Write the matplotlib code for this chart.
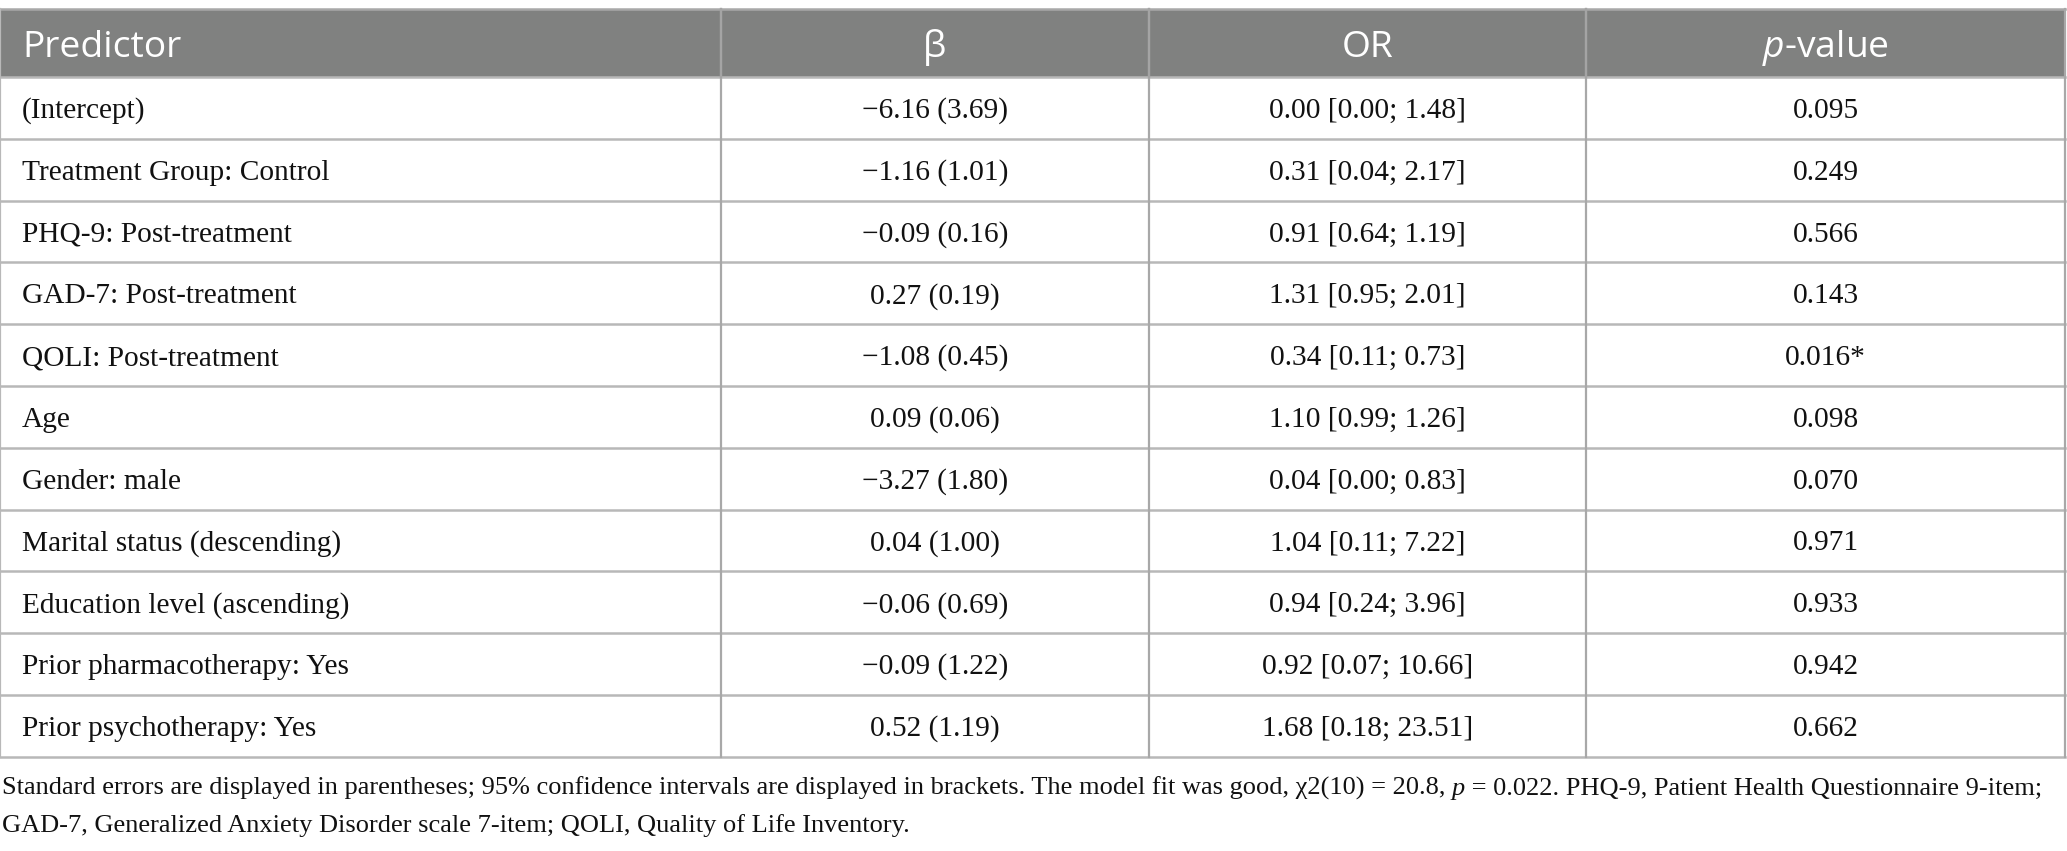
import matplotlib
matplotlib.use("Agg")
import matplotlib.pyplot as plt
from matplotlib.patches import Rectangle

# Table content
header = ["Predictor", "β", "OR", "p-value"]
predictors = [
    "(Intercept)",
    "Treatment Group: Control",
    "PHQ-9: Post-treatment",
    "GAD-7: Post-treatment",
    "QOLI: Post-treatment",
    "Age",
    "Gender: male",
    "Marital status (descending)",
    "Education level (ascending)",
    "Prior pharmacotherapy: Yes",
    "Prior psychotherapy: Yes",
]
beta_se = [
    "\u22126.16 (3.69)", "\u22121.16 (1.01)", "\u22120.09 (0.16)", "0.27 (0.19)",
    "\u22121.08 (0.45)", "0.09 (0.06)", "\u22123.27 (1.80)", "0.04 (1.00)",
    "\u22120.06 (0.69)", "\u22120.09 (1.22)", "0.52 (1.19)",
]
odds_ratio = [
    "0.00 [0.00; 1.48]", "0.31 [0.04; 2.17]", "0.91 [0.64; 1.19]", "1.31 [0.95; 2.01]",
    "0.34 [0.11; 0.73]", "1.10 [0.99; 1.26]", "0.04 [0.00; 0.83]", "1.04 [0.11; 7.22]",
    "0.94 [0.24; 3.96]", "0.92 [0.07; 10.66]", "1.68 [0.18; 23.51]",
]
p_values = ["0.095", "0.249", "0.566", "0.143", "0.016*", "0.098",
            "0.070", "0.971", "0.933", "0.942", "0.662"]
footnote_1 = [
    ("Standard errors are displayed in parentheses; 95% confidence intervals are displayed in brackets. "
     "The model fit was good, \u03c72(10) = 20.8, ", "normal"),
    ("p", "italic"),
    (" = 0.022. PHQ-9, Patient Health Questionnaire 9-item;", "normal"),
]
footnote_2 = "GAD-7, Generalized Anxiety Disorder scale 7-item; QOLI, Quality of Life Inventory."

W, H = 2067, 851
col_edges = [0, 721, 1149, 1586, 2065]
top, header_bottom, row_h = 9, 77, 61.8
header_bg = "#808180"
line_col = "#b8b8b8"
serif = "Liberation Serif"
sans = "Open Sans"
body_size = 21.2
foot_size = 19.0
head_size = 26.8

plt.rcParams["mathtext.fontset"] = "custom"
plt.rcParams["mathtext.it"] = "Open Sans:italic"
plt.rcParams["mathtext.rm"] = "Open Sans"

fig = plt.figure(figsize=(W / 100, H / 100), dpi=100)
ax = fig.add_axes([0, 0, 1, 1])
ax.set_xlim(0, W)
ax.set_ylim(H, 0)
ax.axis("off")

n_rows = len(predictors)
table_bottom = header_bottom + n_rows * row_h

# header band
ax.add_patch(Rectangle((col_edges[0], top), col_edges[-1] - col_edges[0],
                       header_bottom - top, facecolor=header_bg, edgecolor="none"))

# grid lines
for i in range(n_rows + 1):
    y = header_bottom + i * row_h
    ax.plot([col_edges[0], col_edges[-1]], [y, y], color=line_col, lw=1.8)
ax.plot([col_edges[0], col_edges[-1]], [top, top], color="#a8a8a8", lw=1.8)
for x in col_edges:
    ax.plot([x, x], [top, table_bottom], color="#a8a8a8" if x else line_col, lw=1.6)
for x in col_edges[1:-1]:
    ax.plot([x, x], [top, header_bottom], color="#a4a4a4", lw=1.6)

centers = [(col_edges[i] + col_edges[i + 1]) / 2 for i in range(len(col_edges) - 1)]
hy = 57  # header baseline

# header text
ax.text(22, hy, header[0], color="white", family=sans, fontsize=head_size,
        ha="left", va="baseline")
ax.text(centers[1], hy, header[1], color="white", family=sans, fontsize=head_size,
        ha="center", va="baseline")
ax.text(centers[2], hy, header[2], color="white", family=sans, fontsize=head_size,
        ha="center", va="baseline")
ax.text(centers[3], hy, "$p$-value", color="white", family=sans, fontsize=head_size,
        ha="center", va="baseline")

# body rows
for i in range(n_rows):
    yb = header_bottom + (i + 0.5) * row_h + 10  # baseline
    ax.text(22, yb, predictors[i], family=serif, fontsize=body_size,
            ha="left", va="baseline", color="#111111")
    ax.text(centers[1], yb, beta_se[i], family=serif, fontsize=body_size,
            ha="center", va="baseline", color="#111111")
    ax.text(centers[2], yb, odds_ratio[i], family=serif, fontsize=body_size,
            ha="center", va="baseline", color="#111111")
    ax.text(centers[3], yb, p_values[i], family=serif, fontsize=body_size,
            ha="center", va="baseline", color="#111111")

# footnote, first line built from pieces so the p can be italic
fig.canvas.draw()
renderer = fig.canvas.get_renderer()
x = 2
for txt, style in footnote_1:
    t = ax.text(x, 795, txt, family=serif, fontsize=foot_size, style=style,
                ha="left", va="baseline", color="#111111")
    bb = t.get_window_extent(renderer=renderer)
    x += bb.width
ax.text(2, 832, footnote_2, family=serif, fontsize=foot_size,
        ha="left", va="baseline", color="#111111")

fig.savefig("out.png", dpi=100, facecolor="white")
